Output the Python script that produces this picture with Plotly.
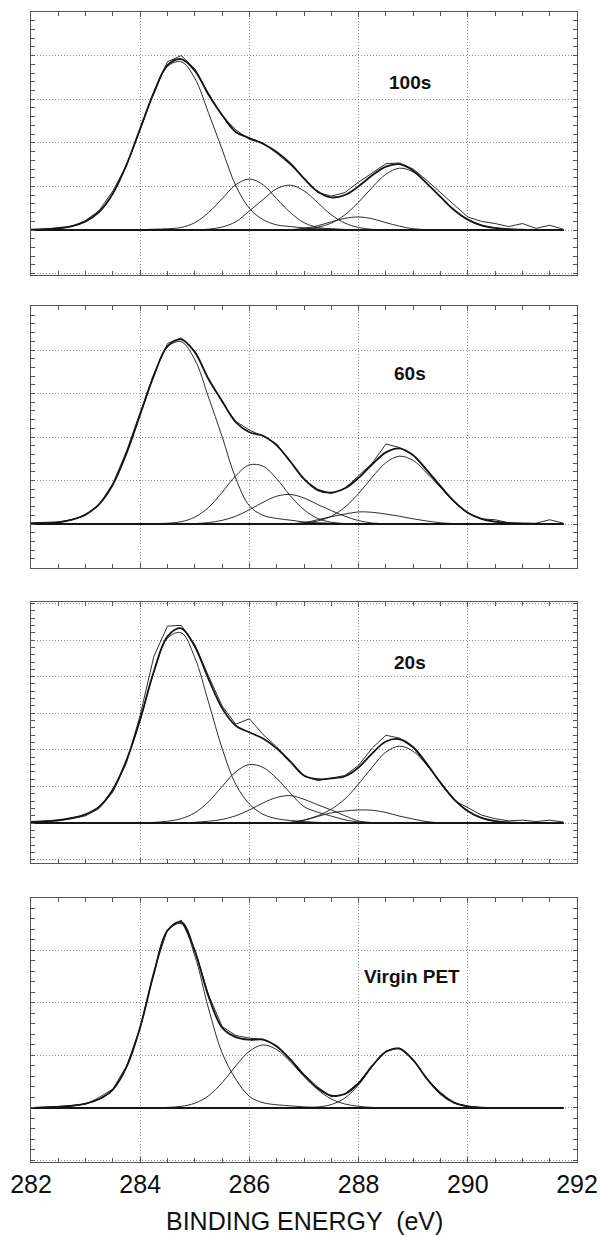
import plotly.graph_objects as go

# Binding energy grid (eV)
energy = [282.0, 282.25, 282.5, 282.75, 283.0, 283.25, 283.5, 283.75, 284.0, 284.25,
          284.5, 284.75, 285.0, 285.25, 285.5, 285.75, 286.0, 286.25, 286.5, 286.75,
          287.0, 287.25, 287.5, 287.75, 288.0, 288.25, 288.5, 288.75, 289.0, 289.25,
          289.5, 289.75, 290.0, 290.25, 290.5, 290.75, 291.0, 291.25, 291.5, 291.75]

panel_labels = ["100s", "60s", "20s", "Virgin PET"]
x_tick_labels = ["282", "284", "286", "288", "290", "292"]
x_title = "BINDING ENERGY  (eV)"

# ---------------- 100s ----------------
data_100 = [0.00, 0.02, 0.06, 0.08, 0.22, 0.45, 0.90, 1.48, 2.30, 3.18,
            3.86, 4.00, 3.70, 3.14, 2.62, 2.30, 2.08, 2.00, 1.76, 1.50,
            1.20, 0.86, 0.78, 0.86, 1.10, 1.32, 1.52, 1.54, 1.40, 1.14,
            0.86, 0.56, 0.30, 0.20, 0.15, 0.08, 0.15, 0.04, 0.11, 0.02]
c1_100 = [0.01, 0.02, 0.04, 0.09, 0.20, 0.42, 0.84, 1.50, 2.32, 3.13,
          3.75, 3.86, 3.48, 2.69, 1.85, 1.02, 0.50, 0.24, 0.12, 0.08,
          0.05, 0.03, 0.02, 0.01, 0, 0, 0, 0, 0, 0,
          0, 0, 0, 0, 0, 0, 0, 0, 0, 0]
c2_100 = [0, 0, 0, 0, 0, 0, 0, 0, 0.01, 0.02,
          0.03, 0.06, 0.17, 0.40, 0.72, 1.04, 1.17, 1.04, 0.72, 0.40,
          0.17, 0.06, 0.03, 0.015, 0.005, 0, 0, 0, 0, 0,
          0, 0, 0, 0, 0, 0, 0, 0, 0, 0]
c3_100 = [0, 0, 0, 0, 0, 0, 0, 0, 0, 0,
          0, 0, 0.005, 0.02, 0.07, 0.19, 0.44, 0.70, 0.95, 1.03,
          0.90, 0.63, 0.35, 0.16, 0.06, 0.016, 0.004, 0, 0, 0,
          0, 0, 0, 0, 0, 0, 0, 0, 0, 0]
c4_100 = [0, 0, 0, 0, 0, 0, 0, 0, 0, 0,
          0, 0, 0, 0, 0, 0, 0, 0, 0, 0.01,
          0.04, 0.10, 0.19, 0.27, 0.30, 0.26, 0.17, 0.09, 0.03, 0.01,
          0, 0, 0, 0, 0, 0, 0, 0, 0, 0]
c5_100 = [0, 0, 0, 0, 0, 0, 0, 0, 0, 0,
          0, 0, 0, 0, 0, 0, 0, 0, 0, 0.006,
          0.022, 0.065, 0.16, 0.35, 0.64, 0.98, 1.28, 1.42, 1.33, 1.06,
          0.76, 0.46, 0.24, 0.11, 0.05, 0.02, 0.01, 0, 0, 0]

# ---------------- 60s ----------------
data_60 = [0.03, 0.04, 0.05, 0.10, 0.20, 0.45, 0.93, 1.68, 2.55, 3.45,
           4.15, 4.28, 3.98, 3.35, 2.80, 2.36, 2.16, 2.02, 1.84, 1.42,
           1.02, 0.80, 0.70, 0.82, 1.10, 1.40, 1.84, 1.76, 1.58, 1.22,
           0.86, 0.50, 0.25, 0.12, 0.10, 0.03, 0.02, 0.02, 0.10, 0.02]
c1_60 = [0.01, 0.02, 0.04, 0.10, 0.22, 0.46, 0.91, 1.63, 2.52, 3.40,
         4.07, 4.19, 3.78, 2.92, 2.01, 1.05, 0.42, 0.20, 0.13, 0.09,
         0.05, 0.03, 0.02, 0.01, 0, 0, 0, 0, 0, 0,
         0, 0, 0, 0, 0, 0, 0, 0, 0, 0]
c2_60 = [0, 0, 0, 0, 0, 0, 0, 0, 0, 0.01,
         0.02, 0.054, 0.16, 0.38, 0.73, 1.11, 1.36, 1.33, 1.04, 0.65,
         0.33, 0.13, 0.043, 0.012, 0, 0, 0, 0, 0, 0,
         0, 0, 0, 0, 0, 0, 0, 0, 0, 0]
c3_60 = [0, 0, 0, 0, 0, 0, 0, 0, 0, 0,
         0, 0, 0.011, 0.033, 0.086, 0.18, 0.33, 0.50, 0.64, 0.68,
         0.60, 0.45, 0.31, 0.18, 0.08, 0.024, 0.008, 0, 0, 0,
         0, 0, 0, 0, 0, 0, 0, 0, 0, 0]
c4_60 = [0, 0, 0, 0, 0, 0, 0, 0, 0, 0,
         0, 0, 0, 0, 0, 0, 0, 0, 0, 0.01,
         0.032, 0.10, 0.17, 0.23, 0.28, 0.27, 0.23, 0.18, 0.12, 0.07,
         0.03, 0.01, 0, 0, 0, 0, 0, 0, 0, 0]
c5_60 = [0, 0, 0, 0, 0, 0, 0, 0, 0, 0,
         0, 0, 0, 0, 0, 0, 0, 0, 0, 0.007,
         0.024, 0.07, 0.18, 0.39, 0.70, 1.08, 1.41, 1.56, 1.46, 1.17,
         0.84, 0.51, 0.26, 0.12, 0.055, 0.022, 0.011, 0, 0, 0]

# ---------------- 20s ----------------
data_20 = [0.02, 0.04, 0.06, 0.12, 0.20, 0.40, 0.85, 1.65, 2.95, 4.55,
           5.38, 5.40, 4.88, 4.02, 3.20, 2.70, 2.85, 2.42, 2.08, 1.70,
           1.28, 1.16, 1.24, 1.30, 1.58, 2.05, 2.40, 2.32, 2.06, 1.60,
           1.12, 0.62, 0.42, 0.22, 0.12, 0.06, 0.08, 0.04, 0.08, 0.03]
c1_20 = [0.03, 0.05, 0.08, 0.14, 0.24, 0.45, 0.92, 1.72, 2.83, 4.12,
         5.05, 5.20, 4.52, 3.31, 2.04, 1.06, 0.52, 0.24, 0.12, 0.07,
         0.04, 0.02, 0.01, 0, 0, 0, 0, 0, 0, 0,
         0, 0, 0, 0, 0, 0, 0, 0, 0, 0]
c2_20 = [0, 0, 0, 0, 0, 0, 0, 0, 0, 0.02,
         0.05, 0.12, 0.28, 0.58, 1.00, 1.40, 1.60, 1.52, 1.22, 0.82,
         0.45, 0.30, 0.19, 0.09, 0.03, 0.01, 0, 0, 0, 0,
         0, 0, 0, 0, 0, 0, 0, 0, 0, 0]
c3_20 = [0, 0, 0, 0, 0, 0, 0, 0, 0, 0,
         0, 0, 0.02, 0.05, 0.10, 0.20, 0.36, 0.55, 0.70, 0.75,
         0.65, 0.50, 0.36, 0.20, 0.06, 0.015, 0, 0, 0, 0,
         0, 0, 0, 0, 0, 0, 0, 0, 0, 0]
c4_20 = [0, 0, 0, 0, 0, 0, 0, 0, 0, 0,
         0, 0, 0, 0, 0, 0, 0, 0, 0, 0.02,
         0.08, 0.18, 0.28, 0.33, 0.36, 0.35, 0.29, 0.19, 0.11, 0.04,
         0.01, 0, 0, 0, 0, 0, 0, 0, 0, 0]
c5_20 = [0, 0, 0, 0, 0, 0, 0, 0, 0, 0,
         0, 0, 0, 0, 0, 0, 0, 0, 0, 0.016,
         0.08, 0.20, 0.38, 0.66, 1.07, 1.53, 1.94, 2.10, 1.96, 1.58,
         1.09, 0.65, 0.33, 0.14, 0.054, 0.018, 0.006, 0, 0, 0]

# ---------------- Virgin PET ----------------
data_pet = [0.00, 0.01, 0.03, 0.05, 0.07, 0.20, 0.36, 0.80, 1.52, 2.60,
            3.40, 3.58, 3.02, 2.16, 1.55, 1.38, 1.33, 1.31, 1.19, 0.94,
            0.64, 0.40, 0.21, 0.27, 0.48, 0.80, 1.08, 1.14, 0.92, 0.54,
            0.30, 0.09, 0.03, 0.01, 0, 0, 0, 0, 0, 0]
c1_pet = [0, 0.01, 0.02, 0.04, 0.08, 0.17, 0.35, 0.78, 1.54, 2.56,
          3.37, 3.51, 2.90, 1.90, 1.05, 0.55, 0.22, 0.10, 0.06, 0.04,
          0.02, 0.01, 0, 0, 0, 0, 0, 0, 0, 0,
          0, 0, 0, 0, 0, 0, 0, 0, 0, 0]
c2_pet = [0, 0, 0, 0, 0, 0, 0, 0, 0, 0,
          0.01, 0.03, 0.09, 0.23, 0.48, 0.80, 1.08, 1.20, 1.11, 0.88,
          0.60, 0.35, 0.17, 0.075, 0.03, 0.01, 0, 0, 0, 0,
          0, 0, 0, 0, 0, 0, 0, 0, 0, 0]
c3_pet = [0, 0, 0, 0, 0, 0, 0, 0, 0, 0,
          0, 0, 0, 0, 0, 0, 0, 0, 0, 0,
          0.003, 0.017, 0.065, 0.19, 0.44, 0.79, 1.07, 1.13, 0.91, 0.56,
          0.27, 0.10, 0.03, 0.006, 0, 0, 0, 0, 0, 0]

panels = [
    (data_100, [c1_100, c2_100, c3_100, c4_100, c5_100]),
    (data_60, [c1_60, c2_60, c3_60, c4_60, c5_60]),
    (data_20, [c1_20, c2_20, c3_20, c4_20, c5_20]),
    (data_pet, [c1_pet, c2_pet, c3_pet]),
]

y_ranges = [[-1.03, 5.0], [-1.01, 5.01], [-1.09, 6.04], [-1.03, 4.0]]
domains = [[0.7713, 1.0], [0.5165, 0.7443], [0.2600, 0.4870], [0.0, 0.2296]]
label_pos = [(288.94, 3.39), (288.94, 3.47), (288.94, 4.40), (288.98, 2.50)]

ink = "#151515"
frame = "#555555"
grid = "#8f8f8f"
font_fam = "Liberation Sans, Arial, sans-serif"

fig = go.Figure()
layout = dict(
    width=600, height=1235, autosize=False,
    margin=dict(l=31, r=23, t=12, b=73, pad=0, autoexpand=False),
    paper_bgcolor="white", plot_bgcolor="white",
    showlegend=False,
    annotations=[],
)

for i, (meas, comps) in enumerate(panels):
    n = i + 1
    xa = "x" if n == 1 else f"x{n}"
    ya = "y" if n == 1 else f"y{n}"
    envelope = [sum(c[k] for c in comps) for k in range(len(energy))]
    # baseline
    fig.add_trace(go.Scatter(x=[energy[0], energy[-1]], y=[0, 0], mode="lines",
                             line=dict(color=ink, width=2), xaxis=xa, yaxis=ya))
    for c in comps:
        fig.add_trace(go.Scatter(x=energy, y=c, mode="lines",
                                 line=dict(color=ink, width=0.9, shape="spline", smoothing=1.0),
                                 xaxis=xa, yaxis=ya))
    fig.add_trace(go.Scatter(x=energy, y=envelope, mode="lines",
                             line=dict(color=ink, width=1.8, shape="spline", smoothing=1.0),
                             xaxis=xa, yaxis=ya))
    fig.add_trace(go.Scatter(x=energy, y=meas, mode="lines",
                             line=dict(color=ink, width=0.9),
                             xaxis=xa, yaxis=ya))

    xkey = "xaxis" if n == 1 else f"xaxis{n}"
    ykey = "yaxis" if n == 1 else f"yaxis{n}"
    layout[xkey] = dict(
        domain=[0, 1], anchor=ya, range=[282, 292], automargin=False,
        showline=True, linecolor=frame, linewidth=1.2, mirror="ticks",
        ticks="inside", ticklen=5, tickcolor=frame, tickwidth=1,
        tickmode="array", tickvals=[282, 284, 286, 288, 290, 292],
        ticktext=x_tick_labels,
        showgrid=True, gridcolor=grid, griddash="1px,2px", gridwidth=1,
        minor=dict(dtick=0.5, tick0=282, ticks="inside", ticklen=4,
                   tickcolor=frame, showgrid=False),
        showticklabels=(n == 4), zeroline=False,
        tickfont=dict(family=font_fam, size=25, color="#111111"),
        ticklabelstandoff=0,
    )
    layout[ykey] = dict(
        domain=domains[i], anchor=xa, range=y_ranges[i], automargin=False,
        showline=True, linecolor=frame, linewidth=1.2, mirror="ticks",
        ticks="inside", ticklen=4, tickcolor=frame, tickwidth=1,
        tick0=0, dtick=1,
        showgrid=True, gridcolor=grid, griddash="1px,2px", gridwidth=1,
        minor=dict(dtick=0.2, tick0=0, ticks="inside", ticklen=4,
                   tickcolor=frame, showgrid=False),
        showticklabels=False, zeroline=False,
    )
    lx, ly = label_pos[i]
    layout["annotations"].append(dict(
        x=lx, y=ly, xref=xa, yref=ya, text=f"<b>{panel_labels[i]}</b>",
        showarrow=False, xanchor="center", yanchor="middle",
        font=dict(family=font_fam, size=19, color="#111111"),
    ))

layout["annotations"].append(dict(
    x=0.5, y=-0.0513, xref="paper", yref="paper", text=x_title,
    showarrow=False, xanchor="center", yanchor="middle",
    font=dict(family=font_fam, size=25, color="#111111"),
))

fig.update_layout(**layout)
fig.write_html("out.html", config={"displayModeBar": False},
               post_script="document.body.style.margin='0';")
